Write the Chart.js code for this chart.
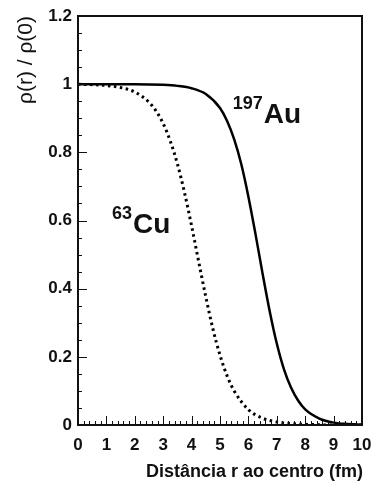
<!DOCTYPE html>
<html>
<head>
<meta charset="utf-8">
<script src="https://cdn.jsdelivr.net/npm/chart.js@4.4.1/dist/chart.umd.min.js"></script>
<style>
  html, body { margin: 0; padding: 0; background: #fff; }
  #wrap { width: 371px; height: 483px; }
</style>
</head>
<body>
<div id="wrap"><canvas id="c"></canvas></div>
<script>
// values
const auR   = [0, 1, 2, 3, 3.5, 4, 4.5, 5, 5.25, 5.5, 5.75, 6, 6.25, 6.5, 6.75, 7, 7.25, 7.5, 7.75, 8, 8.5, 9, 9.5, 10];
const auRho = [1, 1, 1, 0.998, 0.995, 0.988, 0.971, 0.93, 0.892, 0.838, 0.765, 0.67, 0.56, 0.444, 0.334, 0.239, 0.164, 0.11, 0.072, 0.046, 0.019, 0.007, 0.003, 0.001];
const cuR   = [0, 1, 1.5, 2, 2.5, 2.75, 3, 3.25, 3.5, 3.75, 4, 4.25, 4.5, 4.75, 5, 5.25, 5.5, 6, 6.5, 7, 7.5, 8, 9, 10];
const cuRho = [1, 0.996, 0.99, 0.977, 0.947, 0.921, 0.884, 0.833, 0.766, 0.682, 0.584, 0.479, 0.376, 0.282, 0.205, 0.144, 0.1, 0.045, 0.02, 0.009, 0.004, 0.002, 0, 0];
const xTicks = [0, 1, 2, 3, 4, 5, 6, 7, 8, 9, 10];
const yTicks = [0, 0.2, 0.4, 0.6, 0.8, 1, 1.2];

const xTitle = 'Distância r ao centro (fm)';
const yTitle = 'ρ(r) / ρ(0)';
const labels = [
  {x: 5.45, y: 0.885, sup: '197', name: 'Au'},
  {x: 1.2,  y: 0.562, sup: '63',  name: 'Cu'}
];

const toPts = (xs, ys) => xs.map((x, i) => ({x: x, y: ys[i]}));

const frame = {
  id: 'frame',
  afterDatasetsDraw(chart) {
    const {ctx, chartArea: a, scales: {x, y}} = chart;
    ctx.save();
    ctx.strokeStyle = '#111';
    // minor / major ticks, pointing inward
    ctx.lineWidth = 1;
    ctx.beginPath();
    for (let v = 0; v <= 10.001; v += 0.2) {
      const px = Math.round(x.getPixelForValue(v)) + 0.5;
      const major = Math.abs(v - Math.round(v)) < 0.01;
      const len = major ? 9 : 4;
      ctx.moveTo(px, a.bottom);
      ctx.lineTo(px, a.bottom - len);
    }
    for (let v = 0; v <= 1.2001; v += 0.05) {
      const py = Math.round(y.getPixelForValue(v)) + 0.5;
      const major = Math.abs(v / 0.2 - Math.round(v / 0.2)) < 0.01;
      const len = major ? 9 : 4;
      ctx.moveTo(a.left, py);
      ctx.lineTo(a.left + len, py);
    }
    ctx.stroke();
    // box
    ctx.lineWidth = 2;
    ctx.strokeRect(a.left, a.top, a.right - a.left, a.bottom - a.top);

    // nucleus labels
    ctx.fillStyle = '#111';
    ctx.textBaseline = 'alphabetic';
    labels.forEach(l => {
      const px = x.getPixelForValue(l.x);
      const py = y.getPixelForValue(l.y);
      ctx.font = 'bold 18px "Liberation Sans", Arial, sans-serif';
      ctx.fillText(l.sup, px, py - 14);
      const w = ctx.measureText(l.sup).width;
      ctx.font = 'bold 28px "Liberation Sans", Arial, sans-serif';
      ctx.fillText(l.name, px + w + 1, py);
    });

    // axis titles
    ctx.font = 'bold 18px "Liberation Sans", Arial, sans-serif';
    ctx.textAlign = 'right';
    ctx.fillText(xTitle, a.right + 1, 477);
    ctx.translate(32, 60);
    ctx.rotate(-Math.PI / 2);
    ctx.textAlign = 'center';
    ctx.font = '21px "Liberation Sans", Arial, sans-serif';
    ctx.fillText(yTitle, 0, 0);
    ctx.restore();
  }
};

new Chart(document.getElementById('c'), {
  type: 'line',
  data: {
    datasets: [
      {
        label: 'Au',
        data: toPts(auR, auRho),
        borderColor: '#000',
        borderWidth: 2.5,
        pointRadius: 0,
        cubicInterpolationMode: 'monotone'
      },
      {
        label: 'Cu',
        data: toPts(cuR, cuRho),
        borderColor: '#000',
        borderWidth: 3,
        borderDash: [2.5, 3.5],
        pointRadius: 0,
        cubicInterpolationMode: 'monotone'
      }
    ]
  },
  options: {
    responsive: true,
    maintainAspectRatio: false,
    animation: false,
    layout: { padding: { left: 0, right: 9, top: 16, bottom: 0 } },
    plugins: { legend: { display: false }, tooltip: { enabled: false } },
    scales: {
      x: {
        type: 'linear',
        min: 0, max: 10,
        afterFit: s => { s.height = 58; s.paddingLeft = 0; s.paddingRight = 0; },
        afterBuildTicks: s => { s.ticks = xTicks.map(v => ({value: v})); },
        grid: { display: false, drawTicks: false },
        border: { display: false },
        ticks: {
          padding: 10,
          color: '#111',
          font: { family: '"Liberation Sans", Arial, sans-serif', size: 17, weight: 'bold' },
          maxRotation: 0
        }
      },
      y: {
        min: 0, max: 1.2,
        afterFit: s => { s.width = 78; s.paddingTop = 0; s.paddingBottom = 0; },
        afterBuildTicks: s => { s.ticks = yTicks.map(v => ({value: v})); },
        grid: { display: false, drawTicks: false },
        border: { display: false },
        ticks: {
          padding: 6,
          color: '#111',
          callback: v => String(Math.round(v * 10) / 10),
          font: { family: '"Liberation Sans", Arial, sans-serif', size: 17, weight: 'bold' }
        }
      }
    }
  },
  plugins: [frame]
});
</script>
</body>
</html>
